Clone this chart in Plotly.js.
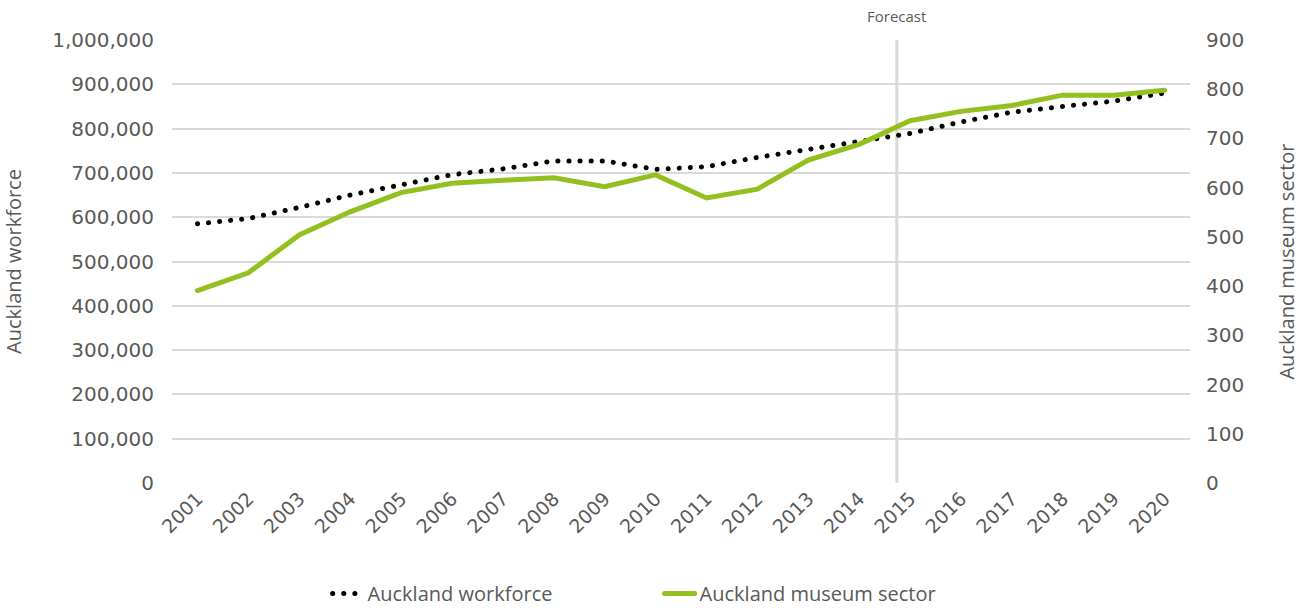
<!DOCTYPE html>
<html>
<head>
<meta charset="utf-8">
<script src="https://cdn.plot.ly/plotly-3.0.1.min.js"></script>
<style>
  html, body { margin: 0; padding: 0; background: #fff; }
  #chart { width: 1305px; height: 608px; }
  path.js-line { stroke-linecap: round !important; }
</style>
</head>
<body>
<div id="chart"></div>
<script>
const years = ["2001","2002","2003","2004","2005","2006","2007","2008","2009","2010",
               "2011","2012","2013","2014","2015","2016","2017","2018","2019","2020"];
const workforce = [585000, 597000, 622000, 650000, 673000, 696000, 709000, 727000, 727000, 708000,
                   714000, 735000, 753000, 770000, 789000, 815000, 837000, 850000, 862000, 880000];
const museum = [391, 427, 504, 551, 590, 609, 615, 620, 602, 626,
                579, 597, 656, 688, 736, 755, 767, 788, 788, 798];
const leftTicks = [0, 100000, 200000, 300000, 400000, 500000, 600000, 700000, 800000, 900000, 1000000];
const rightTicks = [0, 100, 200, 300, 400, 500, 600, 700, 800, 900];
const forecastLabel = "Forecast";

const TEXTFONT = "'Open Sans', sans-serif";
const NUMFONT = "'DejaVu Sans', sans-serif";
const GREY = "#595959";

const traces = [
  {
    x: years, y: workforce, name: "Auckland workforce", type: "scatter", mode: "lines",
    line: { color: "#000000", width: 5, dash: "0.1px,11px" }, yaxis: "y"
  },
  {
    x: years, y: museum, name: "Auckland museum sector", type: "scatter", mode: "lines",
    line: { color: "#93c01f", width: 5 }, yaxis: "y2"
  }
];

const layout = {
  width: 1305, height: 608,
  margin: { l: 172, r: 115, t: 40, b: 125 },
  paper_bgcolor: "#fff", plot_bgcolor: "#fff",
  font: { family: TEXTFONT, color: GREY, size: 20 },
  showlegend: true,
  legend: {
    orientation: "h", xref: "paper", x: 0.479, xanchor: "center",
    yref: "container", y: 0.024, yanchor: "middle",
    font: { family: TEXTFONT, size: 20, color: GREY }, traceorder: "normal",
    entrywidth: 287, entrywidthmode: "pixels"
  },
  xaxis: {
    type: "category", range: [-0.5, 19.5], tickangle: -45, showgrid: false, zeroline: false,
    showline: false, ticks: "", tickfont: { size: 19, color: GREY, family: NUMFONT },
    automargin: false
  },
  yaxis: {
    range: [0, 1000000], tickvals: leftTicks, tickformat: ",d",
    showgrid: true, gridcolor: "#d9d9d9", gridwidth: 2, zeroline: false,
    showline: false, ticks: "", ticklabelstandoff: 17,
    tickfont: { size: 20, color: GREY, family: NUMFONT },
    title: { text: "Auckland workforce", font: { size: 20, color: GREY, family: TEXTFONT }, standoff: 30 },
    automargin: false
  },
  yaxis2: {
    range: [0, 900], tickvals: rightTicks, overlaying: "y", side: "right",
    showgrid: false, zeroline: false, showline: false, ticks: "", ticklabelstandoff: 15,
    tickfont: { size: 20, color: GREY, family: NUMFONT },
    title: { text: "Auckland museum sector", font: { size: 20, color: GREY, family: TEXTFONT }, standoff: 36 },
    automargin: false
  },
  shapes: [
    { type: "line", xref: "x", yref: "paper", x0: 13.74, x1: 13.74, y0: 0, y1: 1,
      line: { color: "#d9d9d9", width: 3 }, layer: "below" }
  ],
  annotations: [
    { text: forecastLabel, xref: "x", yref: "paper", x: 13.74, y: 1.0, yanchor: "bottom",
      yshift: 12, showarrow: false, font: { size: 15, color: GREY, family: TEXTFONT } }
  ],
  hovermode: false
};

Plotly.newPlot("chart", traces, layout, { displayModeBar: false, staticPlot: true });
</script>
</body>
</html>
